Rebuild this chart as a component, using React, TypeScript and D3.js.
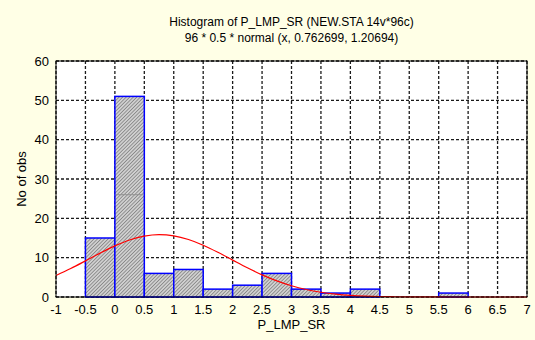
import React from "react";
import * as d3 from "d3";

const binStarts = [-1, -0.5, 0, 0.5, 1, 1.5, 2, 2.5, 3, 3.5, 4, 4.5, 5, 5.5, 6, 6.5];
const counts = [0, 15, 51, 6, 7, 2, 3, 6, 2, 1, 2, 0, 0, 1, 0, 0];
const binWidth = 0.5;
const xTicks = [-1, -0.5, 0, 0.5, 1, 1.5, 2, 2.5, 3, 3.5, 4, 4.5, 5, 5.5, 6, 6.5, 7];
const yTicks = [0, 10, 20, 30, 40, 50, 60];
const curveX = [-1, -0.75, -0.5, -0.25, 0, 0.25, 0.5, 0.75, 1, 1.25, 1.5, 1.75, 2, 2.25, 2.5, 2.75, 3, 3.25, 3.5, 3.75, 4, 4.25, 4.5, 4.75, 5, 5.5, 6, 6.5, 7];
const curveY = [5.46, 7.24, 9.18, 11.16, 12.99, 14.5, 15.49, 15.87, 15.56, 14.62, 13.17, 11.36, 9.38, 7.43, 5.63, 4.09, 2.85, 1.9, 1.21, 0.74, 0.43, 0.24, 0.13, 0.07, 0.03, 0.01, 0, 0, 0];
const title1 = "Histogram of P_LMP_SR (NEW.STA 14v*96c)";
const title2 = "96 * 0.5 * normal (x, 0.762699, 1.20694)";
const xLabel = "P_LMP_SR";
const yLabel = "No of obs";

export default function App() {
  const W = 535, H = 340;
  const left = 56, right = 527, top = 61, bottom = 297;
  const x = d3.scaleLinear().domain([-1, 7]).range([left, right]);
  const y = d3.scaleLinear().domain([0, 60]).range([bottom, top]);
  const line = d3
    .line<number>()
    .x((_, i) => x(curveX[i]))
    .y((d) => y(d))
    .curve(d3.curveMonotoneX);
  const font = "'Liberation Sans', Arial, sans-serif";
  return (
    <svg width={W} height={H} style={{ position: "absolute", left: 0, top: 0 }} fontFamily={font}>
      <defs>
        <pattern id="hatch" width="2.5" height="2.5" patternUnits="userSpaceOnUse" patternTransform="rotate(45)">
          <rect width="2.5" height="2.5" fill="#d0d0d0" />
          <line x1="0" y1="0" x2="0" y2="2.5" stroke="#606060" strokeWidth="1.1" />
        </pattern>
      </defs>
      <rect width={W} height={H} fill="#ffffe6" />
      <rect x={left} y={top} width={right - left} height={bottom - top} fill="#ffffff" />
      {xTicks.map((t) => (
        <line key={"gx" + t} x1={x(t)} x2={x(t)} y1={top} y2={bottom} stroke="#1a1a1a" strokeWidth={1.3} strokeDasharray="3,2" />
      ))}
      {yTicks.map((t) => (
        <line key={"gy" + t} x1={left} x2={right} y1={y(t)} y2={y(t)} stroke="#1a1a1a" strokeWidth={1.3} strokeDasharray="3,2" />
      ))}
      {counts.map((c, i) => {
        const x0 = x(binStarts[i]);
        const x1 = x(binStarts[i] + binWidth);
        return (
          <g key={"b" + i}>
            <rect x={x0} y={y(c)} width={x1 - x0} height={y(0) - y(c)} fill="url(#hatch)" stroke="#0000ff" strokeWidth={1.5} />
          </g>
        );
      })}
      <line x1={x(0) + 1} x2={x(0.5) - 1} y1={y(26)} y2={y(26)} stroke="#909090" strokeWidth={1} />
      <path d={line(curveY) || ""} fill="none" stroke="#ff0000" strokeWidth={1.2} />
      <rect x={left} y={top} width={right - left} height={bottom - top} fill="none" stroke="#000" strokeWidth={1} />
      {yTicks.map((t) => (
        <text key={"ty" + t} x={left - 7} y={y(t) + 4.5} textAnchor="end" fontSize={13} fill="#000">
          {t}
        </text>
      ))}
      {xTicks.map((t) => (
        <text key={"tx" + t} x={x(t)} y={314} textAnchor="middle" fontSize={13} fill="#000">
          {t}
        </text>
      ))}
      <text x={(left + right) / 2} y={26} textAnchor="middle" fontSize={12} fill="#000">
        {title1}
      </text>
      <text x={(left + right) / 2} y={42} textAnchor="middle" fontSize={12} fill="#000">
        {title2}
      </text>
      <text x={(left + right) / 2} y={329} textAnchor="middle" fontSize={13} fill="#000">
        {xLabel}
      </text>
      <text transform={`translate(26,${(top + bottom) / 2}) rotate(-90)`} textAnchor="middle" fontSize={13} fill="#000">
        {yLabel}
      </text>
    </svg>
  );
}
